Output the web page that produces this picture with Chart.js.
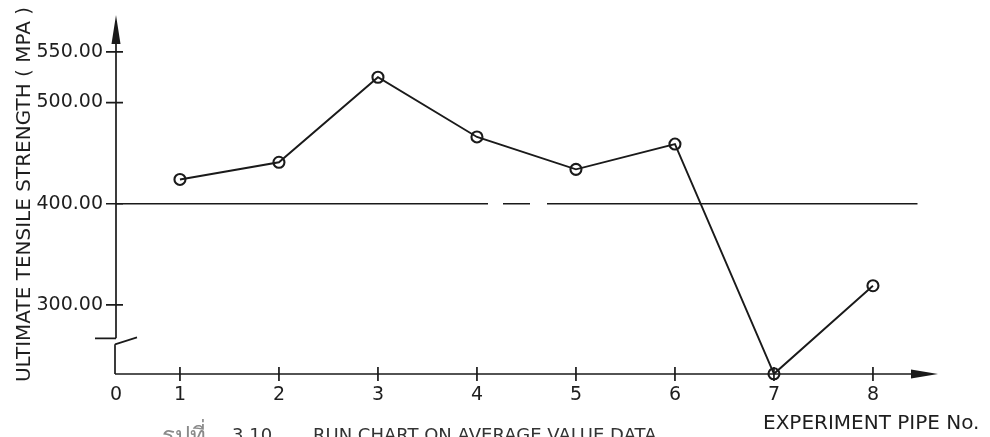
<!DOCTYPE html>
<html>
<head>
<meta charset="utf-8">
<script src="https://cdn.jsdelivr.net/npm/chart.js@4.4.1/dist/chart.umd.min.js"></script>
<style>
  html, body { margin: 0; padding: 0; background: #ffffff; }
  #wrap { width: 990px; height: 437px; position: relative; }
</style>
</head>
<body>
<div id="wrap"><canvas id="runChart" width="990" height="437"></canvas></div>
<script>
// Run chart of the average ultimate tensile strength per experiment pipe
const pipeNumbers   = [1, 2, 3, 4, 5, 6, 7, 8];
const strengthMPa   = [424, 441, 525, 466, 434, 459, 232, 319];
const centerLineMPa = [400, 400];
const centerLineX   = [0.354, 8.45];
const yTickValues   = [300, 400, 500, 550];
const xTickValues   = [1, 2, 3, 4, 5, 6, 7, 8];
const xOriginLabel  = '0';
const yAxisBreakMPa = 267;

const X_MIN = 0.354, X_MAX = 8.657;
const Y_MIN = 231.8, Y_MAX = 586.5;

const INK = '#1a1a1a';
const TEXT = '#1e1e1e';
const FONT = 'DejaVu Sans';

const yTitle = 'ULTIMATE TENSILE STRENGTH ( MPA )';
const xTitle = 'EXPERIMENT PIPE No.';
const captionThai = 'รูปที่';
const captionNumber = '3.10';
const captionText = 'RUN CHART ON AVERAGE VALUE DATA';

// Hand-drafted axes: arrows, crossing tick marks, axis break and captions
const draftAxes = {
  id: 'draftAxes',
  afterDatasetsDraw(chart) {
    const { ctx, chartArea: a, scales: { x, y } } = chart;
    const ax = a.left;
    ctx.save();
    ctx.strokeStyle = INK;
    ctx.fillStyle = INK;
    ctx.lineWidth = 1.7;
    ctx.lineCap = 'butt';

    // vertical axis with break
    const yb = y.getPixelForValue(yAxisBreakMPa);
    ctx.beginPath();
    ctx.moveTo(ax, a.top + 6);
    ctx.lineTo(ax, yb);
    ctx.moveTo(ax - 21, yb);
    ctx.lineTo(ax, yb);
    ctx.moveTo(ax - 1, yb + 6);
    ctx.lineTo(ax + 21, yb - 1);
    ctx.moveTo(ax - 1, yb + 6);
    ctx.lineTo(ax - 1, a.bottom);
    ctx.stroke();

    // arrow heads
    ctx.beginPath();
    ctx.moveTo(ax, a.top);
    ctx.lineTo(ax - 4.5, a.top + 29);
    ctx.lineTo(ax + 4.5, a.top + 29);
    ctx.closePath();
    ctx.fill();

    ctx.beginPath();
    ctx.moveTo(ax - 1, a.bottom);
    ctx.lineTo(a.right - 24, a.bottom);
    ctx.stroke();
    ctx.beginPath();
    ctx.moveTo(a.right, a.bottom);
    ctx.lineTo(a.right - 27, a.bottom - 4.5);
    ctx.lineTo(a.right - 27, a.bottom + 4.5);
    ctx.closePath();
    ctx.fill();

    // tick marks crossing the axes
    ctx.beginPath();
    yTickValues.forEach(v => {
      const py = y.getPixelForValue(v);
      ctx.moveTo(ax - 10, py);
      ctx.lineTo(ax + 7, py);
    });
    xTickValues.forEach(v => {
      const px = x.getPixelForValue(v);
      ctx.moveTo(px, a.bottom - 7);
      ctx.lineTo(px, a.bottom + 7);
    });
    ctx.stroke();

    // axis title at the end of the horizontal axis
    ctx.font = '20px "' + FONT + '"';
    ctx.textAlign = 'left';
    ctx.textBaseline = 'alphabetic';
    ctx.fillStyle = TEXT;
    ctx.fillText(xTitle, 763, 429);

    // figure caption along the bottom edge
    ctx.font = '24px "' + FONT + '"';
    ctx.fillStyle = '#8a8a8a';
    ctx.textAlign = 'right';
    ctx.fillText(captionThai, 206, 444);
    ctx.textAlign = 'left';
    ctx.font = '18px "' + FONT + '"';
    ctx.fillStyle = '#333';
    ctx.fillText(captionNumber, 232, 441);
    ctx.fillText(captionText, 313, 441);
    ctx.restore();
  }
};

new Chart(document.getElementById('runChart'), {
  type: 'scatter',
  data: {
    datasets: [
      {
        label: 'Average strength',
        data: pipeNumbers.map((p, i) => ({ x: p, y: strengthMPa[i] })),
        showLine: true,
        borderColor: INK,
        borderWidth: 1.9,
        pointRadius: 5.5,
        pointBorderWidth: 2.1,
        pointBorderColor: INK,
        pointBackgroundColor: 'rgba(0,0,0,0)',
        clip: false
      },
      {
        label: 'Center line',
        data: centerLineX.map((cx, i) => ({ x: cx, y: centerLineMPa[i] })),
        showLine: true,
        borderColor: INK,
        borderWidth: 1.7,
        borderDash: [372, 15, 27, 17, 420],
        pointRadius: 0,
        clip: false
      }
    ]
  },
  options: {
    responsive: false,
    devicePixelRatio: 1,
    animation: false,
    layout: { padding: { top: 15, right: 52, bottom: 0, left: 0 } },
    plugins: { legend: { display: false }, tooltip: { enabled: false } },
    scales: {
      x: {
        type: 'linear',
        min: X_MIN,
        max: X_MAX,
        afterBuildTicks: s => { s.ticks = [X_MIN, ...xTickValues].map(v => ({ value: v })); },
        afterFit: s => { s.height = 63; s.paddingLeft = 0; s.paddingRight = 0; },
        grid: { display: false },
        border: { display: false },
        ticks: {
          autoSkip: false,
          maxRotation: 0,
          padding: 2,
          color: TEXT,
          font: { family: FONT, size: 19 },
          callback: v => (v === X_MIN ? xOriginLabel : String(v))
        }
      },
      y: {
        type: 'linear',
        min: Y_MIN,
        max: Y_MAX,
        afterBuildTicks: s => { s.ticks = yTickValues.map(v => ({ value: v })); },
        afterFit: s => { s.width = 116; s.paddingTop = 0; s.paddingBottom = 0; },
        grid: { display: false },
        border: { display: false },
        ticks: {
          padding: 5,
          color: TEXT,
          font: { family: FONT, size: 19 },
          callback: v => Number(v).toFixed(2)
        },
        title: {
          display: true,
          text: yTitle,
          color: TEXT,
          font: { family: FONT, size: 20 },
          padding: { top: 13, bottom: 0 }
        }
      }
    }
  },
  plugins: [draftAxes]
});
</script>
</body>
</html>
